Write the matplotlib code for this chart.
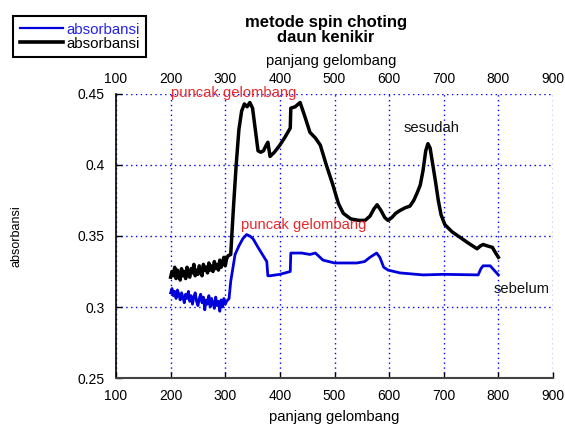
import matplotlib
matplotlib.use("Agg")
import matplotlib.pyplot as plt
import numpy as np
from matplotlib.ticker import FuncFormatter

plt.rcParams['font.family'] = ['Liberation Sans', 'DejaVu Sans']

# kurva sesudah (hitam): bagian bising 200-305 nm, langkah 2.5
x_sesudah_awal = np.arange(200, 307.5, 2.5)
y_sesudah_awal = [0.321, 0.325, 0.322, 0.328, 0.320, 0.326, 0.323, 0.319, 0.327, 0.322,
                  0.325, 0.320, 0.328, 0.323, 0.321, 0.327, 0.324, 0.330, 0.322, 0.326,
                  0.323, 0.329, 0.325, 0.322, 0.330, 0.326, 0.328, 0.324, 0.331, 0.326,
                  0.329, 0.325, 0.332, 0.327, 0.330, 0.326, 0.333, 0.328, 0.331, 0.335,
                  0.329, 0.334, 0.336]
x_sesudah_akhir = [310, 315, 320, 325, 330, 335, 340, 345,
                   350, 355, 360, 365, 370, 375, 378, 382, 390, 400, 410, 419, 420, 428, 437,
                   445, 455, 465, 474, 485, 497, 507, 516, 530, 545, 556, 565, 572, 578, 585,
                   592, 598, 605, 612, 620, 630, 638, 645, 652, 657, 662, 667, 671, 675, 680,
                   685, 690, 695, 702, 715, 730, 745, 761, 767, 772, 780, 789, 795, 800]
y_sesudah_akhir = [0.337, 0.370, 0.400, 0.425, 0.438, 0.443, 0.441, 0.444, 0.440, 0.425,
                   0.410, 0.409, 0.410, 0.414, 0.416, 0.406, 0.409, 0.414, 0.420, 0.426,
                   0.440, 0.441, 0.444, 0.435, 0.423, 0.419, 0.414, 0.400, 0.386, 0.373,
                   0.366, 0.362, 0.361, 0.361, 0.364, 0.369, 0.372, 0.368, 0.363, 0.361,
                   0.363, 0.366, 0.368, 0.370, 0.371, 0.375, 0.381, 0.386, 0.396, 0.410,
                   0.415, 0.412, 0.400, 0.388, 0.375, 0.365, 0.358, 0.353, 0.349, 0.345,
                   0.341, 0.343, 0.344, 0.343, 0.342, 0.338, 0.335]

# kurva sebelum (biru): bagian bising 200-302.5 nm, langkah 2.5
x_sebelum_awal = np.arange(200, 305, 2.5)
y_sebelum_awal = [0.310, 0.313, 0.308, 0.311, 0.306, 0.312, 0.309, 0.305, 0.310, 0.307,
                  0.303, 0.309, 0.306, 0.311, 0.304, 0.308, 0.302, 0.307, 0.310, 0.304,
                  0.301, 0.306, 0.309, 0.303, 0.307, 0.298, 0.305, 0.302, 0.308, 0.300,
                  0.306, 0.303, 0.299, 0.307, 0.301, 0.304, 0.297, 0.305, 0.300, 0.306,
                  0.302, 0.304]
x_sebelum_akhir = [307, 310, 318, 325, 332, 339, 345, 351, 360,
                   368, 376, 378, 382, 400, 419, 420, 440, 455, 465, 479, 500, 520, 541, 555,
                   565, 577, 583, 590, 598, 620, 662, 700, 763, 768, 772, 785, 792, 800]
y_sebelum_akhir = [0.306, 0.318, 0.337, 0.343, 0.348, 0.351, 0.350, 0.348, 0.342,
                   0.337, 0.332, 0.322, 0.322, 0.323, 0.325, 0.338, 0.338, 0.337, 0.338,
                   0.333, 0.331, 0.331, 0.331, 0.332, 0.335, 0.338, 0.335, 0.328, 0.326,
                   0.324, 0.3226, 0.323, 0.3226, 0.327, 0.329, 0.329, 0.326, 0.3226]

x_sesudah = list(x_sesudah_awal) + x_sesudah_akhir
y_sesudah = y_sesudah_awal + y_sesudah_akhir
x_sebelum = list(x_sebelum_awal) + x_sebelum_akhir
y_sebelum = y_sebelum_awal + y_sebelum_akhir

x_ticks = [100, 200, 300, 400, 500, 600, 700, 800, 900]
y_ticks = [0.25, 0.3, 0.35, 0.4, 0.45]

fs_tick = 10
fs = 10.6
merah = '#e8282a'

fig = plt.figure(figsize=(5.65, 4.28), dpi=100)
ax = fig.add_axes([0.2053, 0.1168, 0.7735, 0.6636])

l1, = ax.plot(x_sebelum, y_sebelum, color='#0000dd', lw=2.0, label='absorbansi')
l2, = ax.plot(x_sesudah, y_sesudah, color='black', lw=2.5, label='absorbansi')

ax.set_xlim(100, 900)
ax.set_ylim(0.25, 0.45)
ax.set_xticks(x_ticks)
ax.set_yticks(y_ticks)
ax.yaxis.set_major_formatter(FuncFormatter(lambda v, p: '%g' % v))
ax.grid(True, color='blue', linestyle=(0, (1, 2.5)), lw=1)
ax.tick_params(direction='in', length=4, width=1, labelsize=fs_tick, pad=8)
for s in ['top', 'right']:
    ax.spines[s].set_visible(False)
ax.spines['left'].set_linewidth(1.2)
ax.spines['bottom'].set_color('#444444')
ax.spines['bottom'].set_linewidth(1.5)

ax.set_xlabel('panjang gelombang', fontsize=fs)
ax.xaxis.set_label_coords(0.5, -0.113)
ax.set_ylabel('absorbansi', fontsize=9)
ax.yaxis.set_label_coords(-0.215, 0.5)

top = ax.secondary_xaxis('top')
top.set_xticks(x_ticks)
top.tick_params(length=0, labelsize=fs_tick, pad=6)
top.spines['top'].set_visible(False)
fig.text(0.586, 1 - 61 / 428, 'panjang gelombang', fontsize=fs, ha='center', va='center')

ax.text(200, 0.4505, 'puncak gelombang', color=merah, fontsize=fs, va='center', ha='left')
ax.text(329, 0.358, 'puncak gelombang', color=merah, fontsize=fs, va='center', ha='left')
ax.text(626, 0.4264, 'sesudah', color='#111111', fontsize=fs, va='center', ha='left')
ax.text(792, 0.3127, 'sebelum', color='#111111', fontsize=fs, va='center', ha='left')

fig.text(0.577, 1 - 30 / 428, 'metode spin choting\ndaun kenikir', ha='center', va='center',
         fontsize=12, fontweight='bold', linespacing=1.05)

leg = fig.legend(handles=[l1, l2], loc='upper left', bbox_to_anchor=(0.023, 0.963),
                 fancybox=False, edgecolor='black', framealpha=1, fontsize=10.8,
                 handlelength=2.9, handletextpad=0.2, borderpad=0.45, labelspacing=0.0,
                 borderaxespad=0)
leg.get_frame().set_linewidth(1.5)
leg.get_texts()[0].set_color('#2222ee')
leg.get_texts()[1].set_color('black')
leg.get_lines()[0].set_linewidth(1.6)
leg.get_lines()[1].set_linewidth(2.6)

fig.savefig('out.png', dpi=100)
